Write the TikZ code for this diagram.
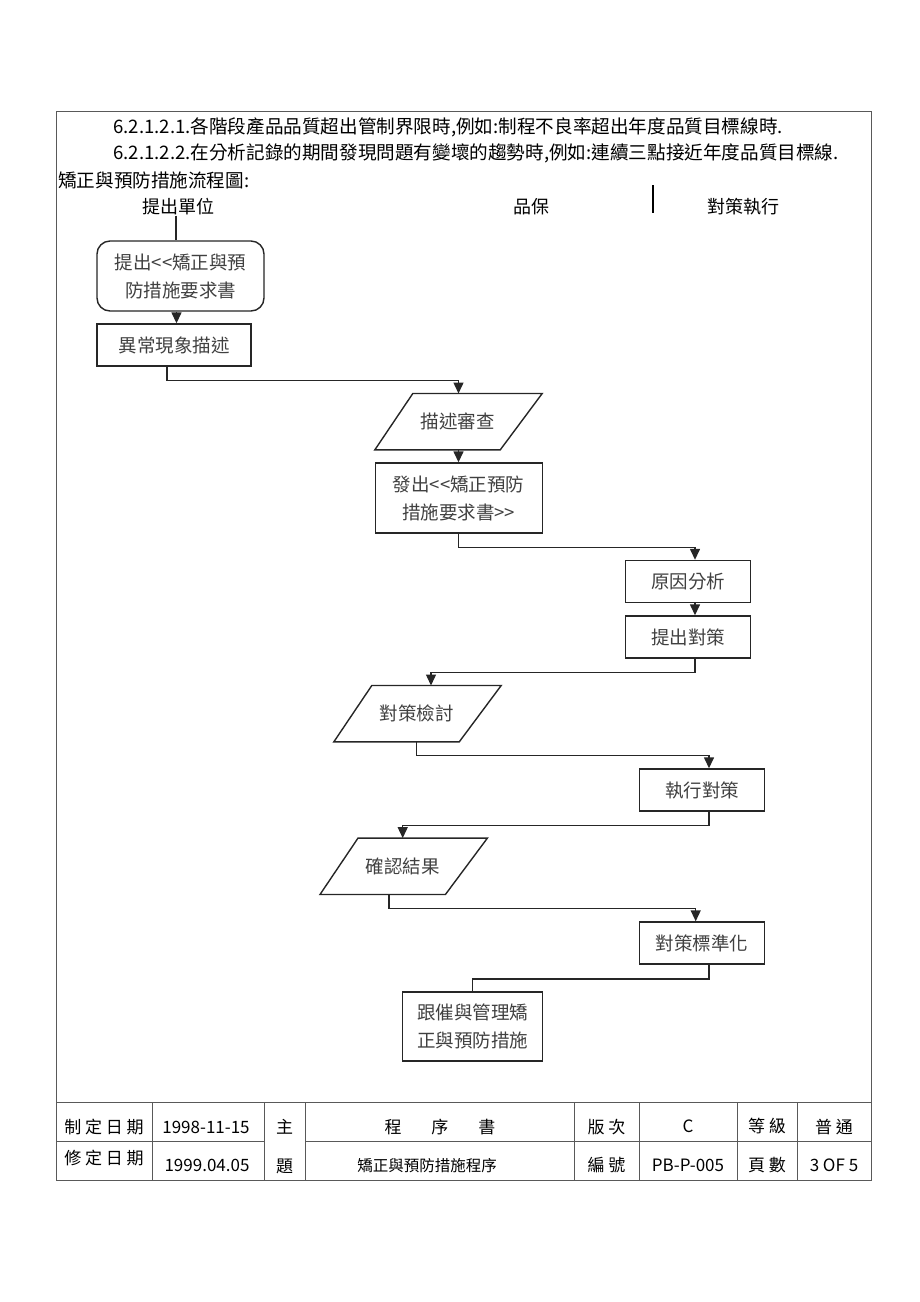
\documentclass[tikz,border=0pt]{standalone}
\usepackage{fontspec}
\setmainfont{Noto Sans CJK TC}
\usetikzlibrary{arrows.meta,calc}
\tikzset{
  fbox/.style={draw=black!85,line width=1.4pt,fill=white,text=black!75,align=center,inner sep=0pt,
    font=\fontsize{18.5pt}{28pt}\selectfont},
  pbody/.style={draw=none,text=black!75,align=center,inner sep=0pt,minimum width=127pt,minimum height=56pt,
    font=\fontsize{18.5pt}{28pt}\selectfont},
  pline/.style={draw=black!85,line width=1.4pt,line join=miter},
  conn/.style={draw=black!85,line width=1.4pt},
  arr/.style={conn,-{Triangle[length=11pt,width=10pt]}},
  frame/.style={draw=black!65,line width=1pt},
  ttext/.style={anchor=west,inner sep=0pt,font=\fontsize{18.6pt}{20pt}\selectfont},
  htext/.style={inner sep=0pt,font=\fontsize{18pt}{20pt}\selectfont},
  ctext/.style={inner sep=0pt,font=\fontsize{17pt}{20pt}\selectfont}
}
\begin{document}
\begin{tikzpicture}[x=1pt,y=-1pt]
\useasboundingbox (0,0) rectangle (920,1302);
% outer frame and footer table
\draw[frame] (56,111) rectangle (871,1180);
\draw[frame] (56,1102) -- (871,1102);
\draw[frame] (56,1141) -- (264,1141);
\draw[frame] (305,1141) -- (871,1141);
\foreach \x in {152,264,305,574,639,737,797} \draw[frame] (\x,1102) -- (\x,1180);

% top text
\node[ttext] (t1) at (113,127) {6.2.1.2.1.各階段產品品質超出管制界限時,例如:制程不良率超出年度品質目標線時.};
\node[ttext] (t2) at (113,153) {6.2.1.2.2.在分析記錄的期間發現問題有變壞的趨勢時,例如:連續三點接近年度品質目標線.};
\node[ttext] (t3) at (58,180) {矯正與預防措施流程圖:};

% lane headers
\node[htext] (hd1) at (178,207) {提出單位};
\node[htext] (hd2) at (531,207) {品保};
\node[htext] (hd3) at (743,207) {對策執行};
\coordinate (sepT) at (653,185);
\coordinate (sepB) at (653,213);
\draw[black,line width=1.3pt] (sepT) -- (sepB);

% flowchart nodes
\node[fbox,rounded corners=13pt,minimum width=167pt,minimum height=70pt] (b1) at (180.5,276) {提出<\kern0pt<矯正與預\\防措施要求書};
\node[fbox,minimum width=154pt,minimum height=42pt] (b2) at (174,345) {異常現象描述};
\node[pbody] (p1) at (457.5,421.7) {描述審查};
\node[fbox,minimum width=167pt,minimum height=70pt] (b3) at (458.7,498) {發出<\kern0pt<矯正預防\\措施要求書>\kern0pt>};
\node[fbox,minimum width=125pt,minimum height=42pt] (b4) at (688,581.5) {原因分析};
\node[fbox,minimum width=125pt,minimum height=42pt] (b5) at (688,637) {提出對策};
\node[pbody] (p2) at (416.5,713.7) {對策檢討};
\node[fbox,minimum width=125pt,minimum height=42pt] (b6) at (702,790) {執行對策};
\node[pbody] (p3) at (402.7,866.3) {確認結果};
\node[fbox,minimum width=125pt,minimum height=42pt] (b7) at (702,943) {對策標準化};
\node[fbox,minimum width=140pt,minimum height=69pt] (b8) at (472.5,1026.3) {跟催與管理矯\\正與預防措施};

% parallelogram outlines
\foreach \p in {p1,p2,p3}
  \draw[pline] ([xshift=19pt]\p.north west) -- ([xshift=21pt]\p.north east)
     -- ([xshift=-21pt]\p.south east) -- ([xshift=-19pt]\p.south west) -- cycle;

% connectors
\draw[conn] ([xshift=-2pt]hd1.south) -- ([xshift=-2pt]hd1.south |- b1.north);
\draw[arr] ([xshift=-4pt]b1.south) -- ([xshift=-4pt]b1.south |- b2.north);
\draw[arr] ([xshift=-7pt]b2.south) -- ++(0,14) -| ([xshift=1pt]p1.north);
\draw[arr] ([xshift=1pt]p1.south) -- ([xshift=1pt]p1.south |- b3.north);
\draw[arr] (b3.south) -- ++(0,14) -| ([xshift=7pt]b4.north);
\draw[arr] ([xshift=7pt]b4.south) -- ([xshift=7pt]b5.north);
\draw[arr] ([xshift=7pt]b5.south) -- ++(0,14) -| ([xshift=14.5pt]p2.north);
\draw[arr] (p2.south) -- ++(0,13.3) -| ([xshift=7pt]b6.north);
\draw[arr] ([xshift=7pt]b6.south) -- ++(0,14) -| (p3.north);
\draw[arr] ([xshift=-13.7pt]p3.south) -- ++(0,14) -| ([xshift=-6.3pt]b7.north);
\draw[conn] ([xshift=7pt]b7.south) -- ++(0,14.3) -| (b8.north);

% footer texts
\node[ctext] (f11) at (104,1127) {制 定 日 期};
\node[ctext] (f12) at (206,1127) {1998-11-15};
\node[ctext] (f13) at (284.5,1127) {主};
\node[ctext] (f14) at (440,1127) {程\hspace{30pt}序\hspace{30pt}書};
\node[ctext] (f15) at (606.5,1127) {版 次};
\node[ctext] (f16) at (688,1126) {C};
\node[ctext] (f17) at (767,1126) {等 級};
\node[ctext] (f18) at (834,1127) {普 通};
\node[ctext] (f21) at (104,1158) {修 定 日 期};
\node[ctext] (f22) at (207,1165) {1999.04.05};
\node[ctext] (f23) at (284.5,1166) {題};
\node[inner sep=0pt,font=\fontsize{15.5pt}{18pt}\selectfont] (f24) at (427,1166) {矯正與預防措施程序};
\node[ctext] (f25) at (606.5,1165) {編 號};
\node[ctext] (f26) at (688,1165) {PB-P-005};
\node[ctext] (f27) at (767,1165) {頁 數};
\node[ctext] (f28) at (834,1165) {3 OF 5};
\end{tikzpicture}
\end{document}
